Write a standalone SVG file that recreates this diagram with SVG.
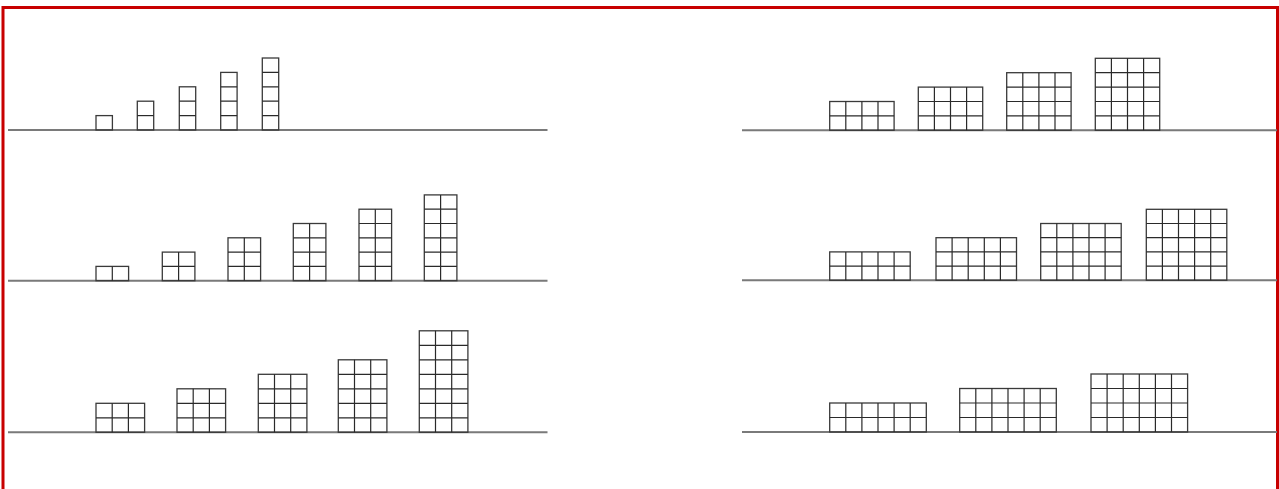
<svg xmlns="http://www.w3.org/2000/svg" width="1279" height="489" viewBox="0 0 1279 489">
<style>
.base{stroke:#7a7a7a;stroke-width:2;fill:none}
.blk rect{fill:none;stroke:#3a3a3a;stroke-width:1.3}
.blk path{fill:none;stroke:#2a2a2a;stroke-width:1.2}
.frame{fill:none;stroke:#c80000;stroke-width:3}
</style>
<rect x="0" y="0" width="1279" height="489" fill="#ffffff"/>
<rect class="frame" x="3" y="7.5" width="1274.5" height="500"/>
<g id="baselines">
<path class="base" d="M8 130H547.5M8 280.7H547.5M8 432.3H547.5M742 130.3H1277M742 280.3H1277M742 432H1277"/>
</g>
<!-- left row 1 -->
<g id="L1a" class="blk"><rect x="96" y="115.6" width="16.4" height="14.4"/></g>
<g id="L1b" class="blk"><rect x="137.3" y="101.2" width="16.4" height="28.8"/><path d="M137.3 115.6H153.7"/></g>
<g id="L1c" class="blk"><rect x="179.3" y="86.8" width="16.4" height="43.2"/><path d="M179.3 101.2H195.7M179.3 115.6H195.7"/></g>
<g id="L1d" class="blk"><rect x="220.7" y="72.4" width="16.4" height="57.6"/><path d="M220.7 86.8H237.1M220.7 101.2H237.1M220.7 115.6H237.1"/></g>
<g id="L1e" class="blk"><rect x="262.3" y="58" width="16.4" height="72"/><path d="M262.3 72.4H278.7M262.3 86.8H278.7M262.3 101.2H278.7M262.3 115.6H278.7"/></g>
<!-- left row 2 -->
<g id="L2a" class="blk"><rect x="96" y="266.4" width="32.6" height="14.3"/><path d="M112.3 266.4V280.7"/></g>
<g id="L2b" class="blk"><rect x="162.3" y="252.1" width="32.6" height="28.6"/><path d="M178.6 252.1V280.7M162.3 266.4H194.9"/></g>
<g id="L2c" class="blk"><rect x="228" y="237.8" width="32.6" height="42.9"/><path d="M244.3 237.8V280.7M228 252.1H260.6M228 266.4H260.6"/></g>
<g id="L2d" class="blk"><rect x="293.3" y="223.5" width="32.6" height="57.2"/><path d="M309.6 223.5V280.7M293.3 237.8H325.9M293.3 252.1H325.9M293.3 266.4H325.9"/></g>
<g id="L2e" class="blk"><rect x="359" y="209.2" width="32.6" height="71.5"/><path d="M375.3 209.2V280.7M359 223.5H391.6M359 237.8H391.6M359 252.1H391.6M359 266.4H391.6"/></g>
<g id="L2f" class="blk"><rect x="424.3" y="194.9" width="32.6" height="85.8"/><path d="M440.6 194.9V280.7M424.3 209.2H456.9M424.3 223.5H456.9M424.3 237.8H456.9M424.3 252.1H456.9M424.3 266.4H456.9"/></g>
<!-- left row 3 -->
<g id="L3a" class="blk"><rect x="96" y="403.3" width="48.6" height="29"/><path d="M112.2 403.3V432.3M128.4 403.3V432.3M96 417.8H144.6"/></g>
<g id="L3b" class="blk"><rect x="177" y="388.8" width="48.6" height="43.5"/><path d="M193.2 388.8V432.3M209.4 388.8V432.3M177 403.3H225.6M177 417.8H225.6"/></g>
<g id="L3c" class="blk"><rect x="258.3" y="374.3" width="48.6" height="58"/><path d="M274.5 374.3V432.3M290.7 374.3V432.3M258.3 388.8H306.9M258.3 403.3H306.9M258.3 417.8H306.9"/></g>
<g id="L3d" class="blk"><rect x="338.3" y="359.8" width="48.6" height="72.5"/><path d="M354.5 359.8V432.3M370.7 359.8V432.3M338.3 374.3H386.9M338.3 388.8H386.9M338.3 403.3H386.9M338.3 417.8H386.9"/></g>
<g id="L3e" class="blk"><rect x="419.3" y="330.8" width="48.6" height="101.5"/><path d="M435.5 330.8V432.3M451.7 330.8V432.3M419.3 345.3H467.9M419.3 359.8H467.9M419.3 374.3H467.9M419.3 388.8H467.9M419.3 403.3H467.9M419.3 417.8H467.9"/></g>
<!-- right row 1 -->
<g id="R1a" class="blk"><rect x="829.7" y="101.5" width="64.4" height="28.8"/><path d="M845.8 101.5V130.3M861.9 101.5V130.3M878 101.5V130.3M829.7 115.9H894.1"/></g>
<g id="R1b" class="blk"><rect x="918.3" y="87.1" width="64.4" height="43.2"/><path d="M934.4 87.1V130.3M950.5 87.1V130.3M966.6 87.1V130.3M918.3 101.5H982.7M918.3 115.9H982.7"/></g>
<g id="R1c" class="blk"><rect x="1006.7" y="72.7" width="64.4" height="57.6"/><path d="M1022.8 72.7V130.3M1038.9 72.7V130.3M1055 72.7V130.3M1006.7 87.1H1071.1M1006.7 101.5H1071.1M1006.7 115.9H1071.1"/></g>
<g id="R1d" class="blk"><rect x="1095.3" y="58.3" width="64.4" height="72"/><path d="M1111.4 58.3V130.3M1127.5 58.3V130.3M1143.6 58.3V130.3M1095.3 72.7H1159.7M1095.3 87.1H1159.7M1095.3 101.5H1159.7M1095.3 115.9H1159.7"/></g>
<!-- right row 2 -->
<g id="R2a" class="blk"><rect x="829.7" y="251.9" width="80.5" height="28.4"/><path d="M845.8 251.9V280.3M861.9 251.9V280.3M878 251.9V280.3M894.1 251.9V280.3M829.7 266.1H910.2"/></g>
<g id="R2b" class="blk"><rect x="936" y="237.7" width="80.5" height="42.6"/><path d="M952.1 237.7V280.3M968.2 237.7V280.3M984.3 237.7V280.3M1000.4 237.7V280.3M936 251.9H1016.5M936 266.1H1016.5"/></g>
<g id="R2c" class="blk"><rect x="1040.7" y="223.5" width="80.5" height="56.8"/><path d="M1056.8 223.5V280.3M1072.9 223.5V280.3M1089 223.5V280.3M1105.1 223.5V280.3M1040.7 237.7H1121.2M1040.7 251.9H1121.2M1040.7 266.1H1121.2"/></g>
<g id="R2d" class="blk"><rect x="1146.3" y="209.3" width="80.5" height="71"/><path d="M1162.4 209.3V280.3M1178.5 209.3V280.3M1194.6 209.3V280.3M1210.7 209.3V280.3M1146.3 223.5H1226.8M1146.3 237.7H1226.8M1146.3 251.9H1226.8M1146.3 266.1H1226.8"/></g>
<!-- right row 3 -->
<g id="R3a" class="blk"><rect x="829.7" y="403" width="96.6" height="29"/><path d="M845.8 403V432M861.9 403V432M878 403V432M894.1 403V432M910.2 403V432M829.7 417.5H926.3"/></g>
<g id="R3b" class="blk"><rect x="959.7" y="388.5" width="96.6" height="43.5"/><path d="M975.8 388.5V432M991.9 388.5V432M1008 388.5V432M1024.1 388.5V432M1040.2 388.5V432M959.7 403H1056.3M959.7 417.5H1056.3"/></g>
<g id="R3c" class="blk"><rect x="1091" y="374" width="96.6" height="58"/><path d="M1107.1 374V432M1123.2 374V432M1139.3 374V432M1155.4 374V432M1171.5 374V432M1091 388.5H1187.6M1091 403H1187.6M1091 417.5H1187.6"/></g>
</svg>
